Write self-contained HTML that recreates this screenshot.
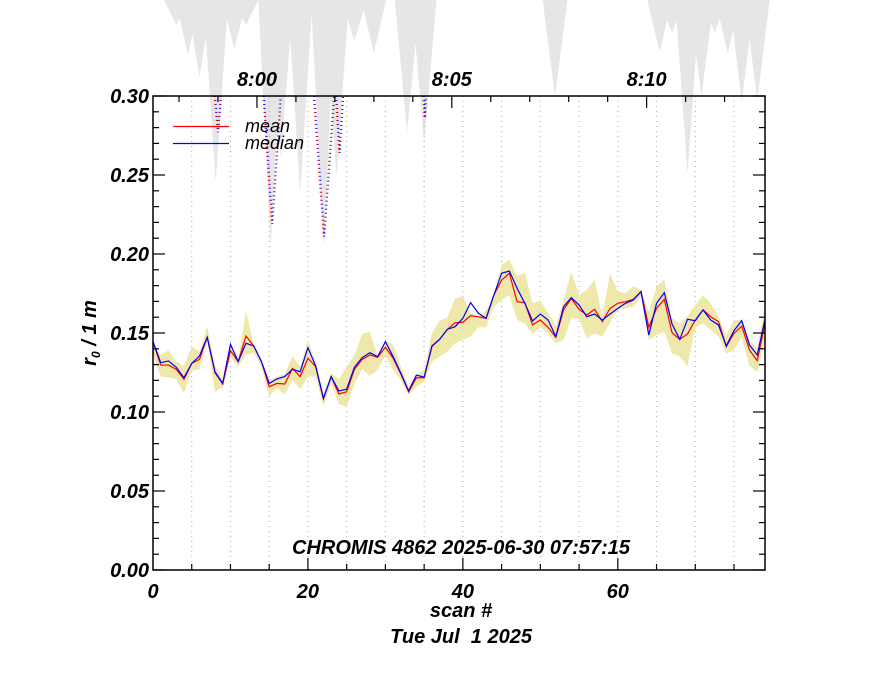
<!DOCTYPE html>
<html><head><meta charset="utf-8"><style>
html,body{margin:0;padding:0;background:#fff;}
svg{display:block;font-family:"Liberation Sans",sans-serif;}
.lbl{font-weight:bold;font-style:italic;font-size:20px;fill:#000;}
</style></head><body>
<svg id="chart" width="880" height="680" viewBox="0 0 880 680">
<g id="gOut"></g>
<g id="gGrid"></g>
<g id="gBand"></g>
<g id="gLines"></g>
<g id="gAxes"></g>
<g>
<line x1="173" y1="126.5" x2="229" y2="126.5" stroke="#f00" stroke-width="1.2"/>
<text x="245" y="132" font-size="18" font-style="italic">mean</text>
<line x1="173" y1="143.5" x2="229" y2="143.5" stroke="#00f" stroke-width="1.2"/>
<text x="245" y="149" font-size="18" font-style="italic">median</text>
</g>
<text class="lbl" x="461" y="554" text-anchor="middle" font-size="19">CHROMIS 4862 2025-06-30 07:57:15</text>
<text class="lbl" x="461" y="617" text-anchor="middle">scan #</text>
<text class="lbl" x="461" y="643" text-anchor="middle" style="white-space:pre" xml:space="preserve">Tue Jul  1 2025</text>
<text class="lbl" transform="translate(96,333) rotate(-90)" text-anchor="middle">r<tspan font-size="12" dy="4">0</tspan><tspan dy="-4"> / 1 m</tspan></text>
</svg>
<script>
const meanVals=[0.1445,0.1297,0.1297,0.1270,0.1207,0.1308,0.1333,0.1473,0.1249,0.1177,0.1388,0.1319,0.1481,0.1418,0.1319,0.1160,0.1181,0.1177,0.1276,0.1224,0.1340,0.1287,0.1082,0.1224,0.1114,0.1128,0.1270,0.1333,0.1361,0.1346,0.1410,0.1340,0.1240,0.1127,0.1217,0.1217,0.1414,0.1460,0.1523,0.1565,0.1568,0.1610,0.1603,0.1593,0.1740,0.1835,0.1878,0.1698,0.1692,0.1551,0.1582,0.1536,0.1473,0.1646,0.1719,0.1650,0.1614,0.1650,0.1572,0.1656,0.1688,0.1698,0.1713,0.1762,0.1536,0.1656,0.1713,0.1502,0.1460,0.1494,0.1582,0.1646,0.1603,0.1572,0.1414,0.1498,0.1544,0.1392,0.1325,0.1561];
const medianVals=[0.1445,0.1312,0.1323,0.1283,0.1217,0.1308,0.1354,0.1473,0.1255,0.1181,0.1428,0.1319,0.1435,0.1418,0.1319,0.1181,0.1209,0.1224,0.1270,0.1255,0.1407,0.1291,0.1087,0.1224,0.1133,0.1144,0.1283,0.1344,0.1375,0.1350,0.1445,0.1350,0.1245,0.1133,0.1234,0.1220,0.1418,0.1460,0.1523,0.1540,0.1593,0.1692,0.1625,0.1593,0.1740,0.1878,0.1892,0.1783,0.1688,0.1576,0.1620,0.1582,0.1477,0.1667,0.1724,0.1677,0.1603,0.1620,0.1582,0.1620,0.1656,0.1688,0.1709,0.1762,0.1487,0.1688,0.1755,0.1557,0.1460,0.1587,0.1578,0.1646,0.1582,0.1551,0.1418,0.1515,0.1578,0.1424,0.1361,0.1587];
const bandHigh=[0.1435,0.1361,0.1390,0.1319,0.1291,0.1414,0.1382,0.1540,0.1297,0.1213,0.1435,0.1329,0.1640,0.1424,0.1329,0.1203,0.1224,0.1238,0.1354,0.1287,0.1451,0.1319,0.1118,0.1245,0.1207,0.1283,0.1361,0.1494,0.1508,0.1350,0.1456,0.1424,0.1287,0.1160,0.1234,0.1266,0.1498,0.1578,0.1599,0.1719,0.1730,0.1624,0.1593,0.1646,0.1720,0.1930,0.1966,0.1857,0.1882,0.1688,0.1705,0.1624,0.1544,0.1709,0.1888,0.1740,0.1772,0.1840,0.1603,0.1878,0.1762,0.1751,0.1797,0.1772,0.1635,0.1793,0.1840,0.1593,0.1561,0.1608,0.1677,0.1740,0.1688,0.1603,0.1481,0.1582,0.1582,0.1456,0.1403,0.1667];
const bandLow=[0.1361,0.1224,0.1220,0.1207,0.1118,0.1261,0.1270,0.1445,0.1128,0.1160,0.1350,0.1283,0.1361,0.1375,0.1287,0.1101,0.1150,0.1112,0.1203,0.1144,0.1224,0.1224,0.1038,0.1181,0.1051,0.1034,0.1181,0.1270,0.1228,0.1266,0.1361,0.1266,0.1203,0.1106,0.1160,0.1192,0.1319,0.1350,0.1382,0.1435,0.1456,0.1477,0.1536,0.1536,0.1667,0.1709,0.1740,0.1582,0.1561,0.1494,0.1536,0.1498,0.1435,0.1456,0.1593,0.1591,0.1466,0.1498,0.1477,0.1566,0.1646,0.1656,0.1667,0.1730,0.1456,0.1487,0.1508,0.1371,0.1350,0.1291,0.1536,0.1561,0.1519,0.1477,0.1371,0.1392,0.1477,0.1291,0.1255,0.1456];
const outScans=[3,4.5,6,8.1,10.5,12,15.2,16.5,19,22,23.7,26,28.5,32.8,35,51.9,65.4,67,69,70.8,72.5,74.2,76,78];
const outLows=[0.345,0.326,0.312,0.2456,0.33,0.345,0.204,0.261,0.239,0.204,0.249,0.335,0.327,0.277,0.270,0.300,0.328,0.34,0.251,0.300,0.34,0.327,0.296,0.297];
const spikeScans=[8.3,15.3,22,24,35];
const spikeLows=[0.277,0.219,0.211,0.264,0.286];
const spikeWidths=[0.8,2.2,2.6,0.9,0.3];
const yTicks=["0.00","0.05","0.10","0.15","0.20","0.25","0.30"];
const xTicks=[0,20,40,60];
const timeLabels=["8:00","8:05","8:10"];

const L=153,R=765,T=96,B=570,XMAX=79,YMAX=0.30;
const sx=v=>L+v*(R-L)/XMAX;
const sy=v=>B-v*(B-T)/YMAX;
const NS='http://www.w3.org/2000/svg';
function mk(tag,attrs,parent){const e=document.createElementNS(NS,tag);for(const k in attrs)e.setAttribute(k,attrs[k]);parent.appendChild(e);return e;}
const gOut=document.getElementById('gOut'),gGrid=document.getElementById('gGrid'),gBand=document.getElementById('gBand'),gLines=document.getElementById('gLines'),gAxes=document.getElementById('gAxes');

outScans.forEach((s,i)=>{
  const p=mk('polygon',{points:`${sx(s-1.6)},0 ${sx(s+1.6)},0 ${sx(s)},${sy(outLows[i])}`,fill:'#e6e6e6'},gOut);
  
  
});
for(let s=5;s<XMAX;s+=5){
  const l=mk('line',{x1:sx(s),x2:sx(s),y1:T,y2:B,stroke:'#aaa','stroke-width':1,'stroke-dasharray':'1,4'},gGrid);
  
  
}
let pts=bandHigh.map((v,i)=>`${sx(i)},${sy(v)}`);
for(let i=bandLow.length-1;i>=0;i--)pts.push(`${sx(i)},${sy(bandLow[i])}`);
const band=mk('polygon',{points:pts.join(' '),fill:'#eee8aa'},gBand);


spikeScans.forEach((s,i)=>{
  const w=spikeWidths[i];
  [['#f00',0],['#00f',0.15]].forEach(([c,o])=>{
    const p=mk('polyline',{points:`${sx(s-w/2+o)},${T} ${sx(s+o)},${sy(spikeLows[i])} ${sx(s+w/2+o)},${T}`,fill:'none',stroke:c,'stroke-width':1.2,'stroke-dasharray':'1,3'},gLines);
    
    
  });
});
const mline=mk('polyline',{points:meanVals.map((v,i)=>`${sx(i)},${sy(v)}`).join(' '),fill:'none',stroke:'#f00','stroke-width':1.2},gLines);


const dline=mk('polyline',{points:medianVals.map((v,i)=>`${sx(i)},${sy(v)}`).join(' '),fill:'none',stroke:'#00f','stroke-width':1.2},gLines);



const fr=mk('rect',{x:L,y:T,width:R-L,height:B-T,fill:'none',stroke:'#000','stroke-width':1.5},gAxes);


for(let k=0;k<=30;k++){
  const v=k/100,y=sy(v),len=(k%5===0)?12:6;
  mk('line',{x1:L,x2:L+len,y1:y,y2:y,stroke:'#000','stroke-width':1.2},gAxes);
  mk('line',{x1:R-len,x2:R,y1:y,y2:y,stroke:'#000','stroke-width':1.2},gAxes);
}
yTicks.forEach(t=>{
  const tx=mk('text',{x:149,y:sy(parseFloat(t))+7,'text-anchor':'end',class:'lbl'},gAxes);
  tx.textContent=t;
  
  
});
for(let s=5;s<XMAX;s+=5){
  const len=(s%20===0)?12:6;
  mk('line',{x1:sx(s),x2:sx(s),y1:B,y2:B-len,stroke:'#000','stroke-width':1.2},gAxes);
}
xTicks.forEach(t=>{
  const tx=mk('text',{x:sx(t),y:598,'text-anchor':'middle',class:'lbl'},gAxes);
  tx.textContent=t;
  
  
});
const t0=13.42,minS=5.03;
for(let m=-2;m<=12;m++){
  const s=t0+m*minS; if(s<0||s>XMAX)continue;
  const len=(m%5===0)?12:6;
  mk('line',{x1:sx(s),x2:sx(s),y1:T,y2:T+len,stroke:'#000','stroke-width':1.2},gAxes);
}
timeLabels.forEach((t,i)=>{
  const tx=mk('text',{x:sx(t0+i*5*minS),y:86,'text-anchor':'middle',class:'lbl',"font-size":"19"},gAxes);
  tx.textContent=t;
  
  
});
</script>
</body></html>
